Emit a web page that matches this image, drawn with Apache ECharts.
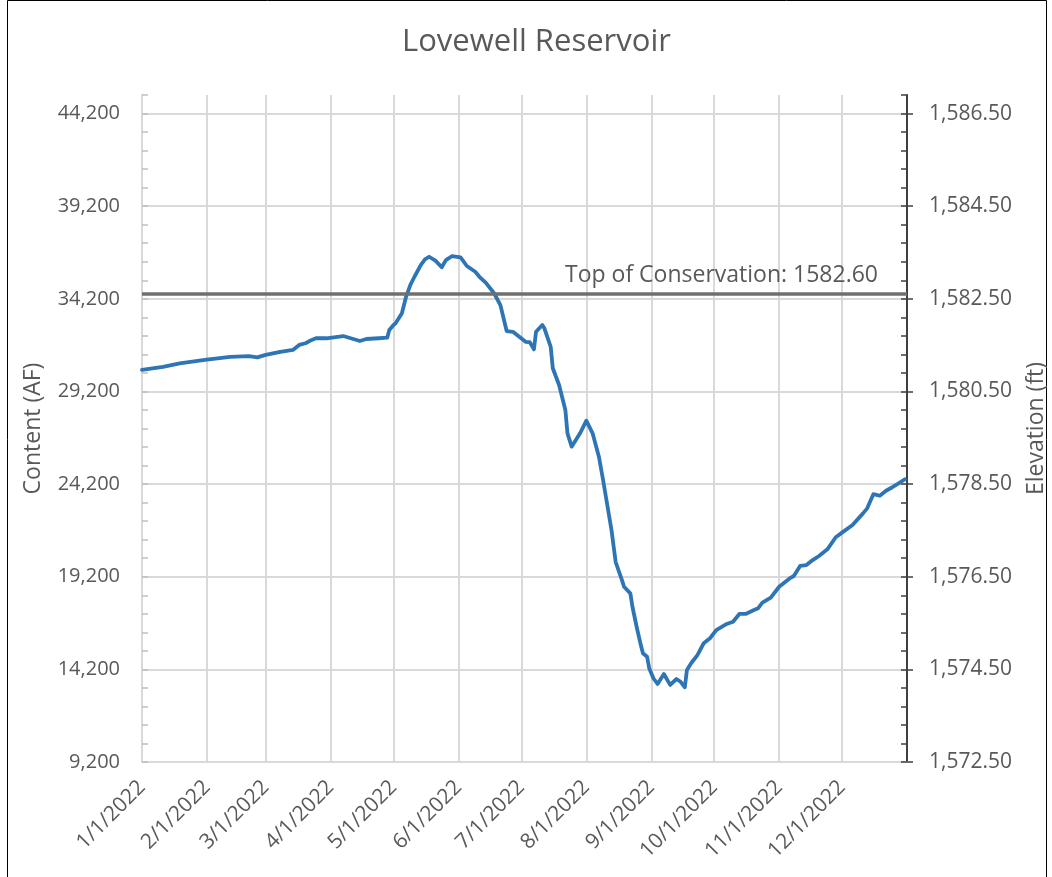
<!DOCTYPE html>
<html>
<head>
<meta charset="utf-8">
<title>Lovewell Reservoir</title>
<script src="https://cdn.jsdelivr.net/npm/echarts@6/dist/echarts.min.js"></script>
<style>
  html, body { margin: 0; padding: 0; background: #ffffff; }
  #chart { width: 1052px; height: 877px; }
</style>
</head>
<body>
<div id="chart"></div>
<script>
// Daily reservoir content readings (acre-feet), 2022
const dates = [
  '2022-01-01','2022-01-11','2022-01-19','2022-01-31','2022-02-12','2022-02-21','2022-02-25',
  '2022-03-01','2022-03-08','2022-03-14','2022-03-17','2022-03-20','2022-03-23','2022-03-25','2022-03-30',
  '2022-04-07','2022-04-15','2022-04-18','2022-04-24','2022-04-28','2022-04-29',
  '2022-05-01','2022-05-02','2022-05-05','2022-05-07','2022-05-09','2022-05-11','2022-05-14','2022-05-16',
  '2022-05-18','2022-05-21','2022-05-24','2022-05-26','2022-05-29',
  '2022-06-02','2022-06-05','2022-06-09','2022-06-11','2022-06-14','2022-06-18','2022-06-21','2022-06-24',
  '2022-06-27','2022-06-30',
  '2022-07-03','2022-07-05','2022-07-07','2022-07-08','2022-07-11','2022-07-12','2022-07-15','2022-07-16',
  '2022-07-19','2022-07-22','2022-07-23','2022-07-25','2022-07-29',
  '2022-08-01','2022-08-04','2022-08-07','2022-08-09','2022-08-11','2022-08-13','2022-08-15','2022-08-18',
  '2022-08-19','2022-08-22','2022-08-23','2022-08-25','2022-08-27','2022-08-28','2022-08-30','2022-08-31',
  '2022-09-02','2022-09-04','2022-09-07','2022-09-10','2022-09-13','2022-09-15','2022-09-17','2022-09-18',
  '2022-09-20','2022-09-23','2022-09-26','2022-09-29',
  '2022-10-02','2022-10-07','2022-10-10','2022-10-13','2022-10-16','2022-10-20','2022-10-22','2022-10-24',
  '2022-10-28',
  '2022-11-01','2022-11-06','2022-11-08','2022-11-11','2022-11-14','2022-11-17','2022-11-20','2022-11-24',
  '2022-11-28',
  '2022-12-01','2022-12-06','2022-12-11','2022-12-13','2022-12-16','2022-12-19','2022-12-22','2022-12-25',
  '2022-12-28','2022-12-31'
];
const contentAF = [
  30360, 30530, 30720, 30900, 31070, 31110, 31040,
  31170, 31340, 31440, 31710, 31800, 31980, 32070, 32070,
  32190, 31920, 32030, 32070, 32100, 32520,
  32790, 32880, 33420, 34310, 34940, 35390, 36020, 36330,
  36470, 36260, 35900, 36290, 36510,
  36440, 35970, 35660, 35390, 35070, 34500, 33860, 32460,
  32420, 32150,
  31880, 31860, 31470, 32420, 32790, 32610, 31610, 30450,
  29550, 28200, 26940, 26220, 26940,
  27620, 26940, 25680, 24420, 23070, 21720, 19990, 19020,
  18660, 18300, 17580, 16500, 15510, 15070, 14880, 14260,
  13720, 13410, 13950, 13360, 13680, 13530, 13230, 14170,
  14530, 14970, 15610, 15880,
  16320, 16650, 16770, 17190, 17190, 17400, 17500, 17800,
  18070,
  18660, 19110, 19240, 19780, 19830, 20100, 20320, 20680,
  21330,
  21580, 21990, 22620, 22890, 23660, 23570, 23840, 24030,
  24240, 24460
];

// Axis ranges and tick steps
const contentMin = 9200, contentMax = 45200, contentMajor = 5000, contentMinor = 1000;
const elevMin = 1572.5, elevMajor = 2, elevMinor = 0.4;
const afPerFoot = 2500;                       // content-to-elevation scale shared by both axes
const elevMax = elevMin + (contentMax - contentMin) / afPerFoot;
const conservationElev = 1582.60;
const conservationName = 'Top of Conservation';

// One category per day, 1/1/2022 through 1/1/2023
const categories = [];
for (let t = Date.UTC(2022, 0, 1); t <= Date.UTC(2023, 0, 1); t += 86400000) {
  categories.push(new Date(t).toISOString().slice(0, 10));
}
const lastIndex = categories.length - 1;

function usDate(iso) {
  const [y, m, d] = iso.split('-');
  return (+m) + '/' + (+d) + '/' + y;
}
function isMonthStart(index, value) {
  return index < lastIndex && categories[index].slice(8) === '01';
}
function isMultiple(v, base, step) {
  const k = (v - base) / step;
  return Math.abs(k - Math.round(k)) < 1e-6;
}

const FONT = 'Open Sans';
const TEXT = '#595959';
const GRID = '#d9d9d9';

const chart = echarts.init(document.getElementById('chart'), null, { renderer: 'canvas' });

chart.setOption({
  animation: false,
  backgroundColor: '#ffffff',
  textStyle: { fontFamily: FONT },
  title: {
    text: 'Lovewell Reservoir',
    left: 397,
    top: 22,
    textStyle: { fontFamily: FONT, fontSize: 31, fontWeight: 'normal', color: TEXT }
  },
  graphic: [{
    type: 'rect',
    shape: { x: 7.5, y: 0.5, width: 1039, height: 880 },
    style: { fill: 'none', stroke: '#000000', lineWidth: 1 },
    silent: true
  }],
  grid: {
    left: 142, right: 145, top: 95, bottom: 115,
    containLabel: false,
    outerBoundsMode: 'none'
  },
  xAxis: {
    type: 'category',
    data: categories,
    boundaryGap: false,
    axisLine: { show: true, lineStyle: { color: GRID, width: 2 } },
    axisTick: { show: false },
    axisLabel: {
      interval: isMonthStart,
      rotate: 45,
      margin: 22,
      formatter: usDate,
      color: TEXT,
      fontSize: 21,
      fontFamily: FONT
    },
    splitLine: { show: true, interval: isMonthStart, lineStyle: { color: GRID, width: 2 } }
  },
  yAxis: [
    {
      // left content axis: labels and minor ticks
      type: 'value',
      position: 'left',
      min: contentMin,
      max: contentMax,
      interval: contentMinor,
      name: 'Content (AF)',
      nameLocation: 'middle',
      nameGap: 97,
      nameTextStyle: { color: TEXT, fontSize: 23, fontFamily: FONT },
      axisLine: { show: true, lineStyle: { color: GRID, width: 2 } },
      axisTick: { show: true, inside: true, length: 6, lineStyle: { color: '#bfbfbf', width: 1.5 } },
      axisLabel: {
        margin: 22,
        color: TEXT,
        fontSize: 20,
        fontFamily: FONT,
        formatter: v => isMultiple(v, contentMin, contentMajor) ? v.toLocaleString('en-US') : ''
      },
      splitLine: { show: false }
    },
    {
      // right elevation axis: line and minor ticks
      type: 'value',
      position: 'right',
      min: elevMin,
      max: elevMax,
      interval: elevMinor,
      axisLine: { show: true, lineStyle: { color: '#404040', width: 2 } },
      axisTick: { show: true, inside: true, length: 6, lineStyle: { color: '#404040', width: 1.5 } },
      axisLabel: { show: false },
      splitLine: { show: false }
    },
    {
      // right elevation axis: major ticks and labels
      type: 'value',
      position: 'right',
      min: elevMin,
      max: elevMax,
      interval: elevMajor,
      name: 'Elevation (ft)',
      nameLocation: 'middle',
      nameGap: 118,
      nameTextStyle: { color: TEXT, fontSize: 23, fontFamily: FONT },
      axisLine: { show: false },
      axisTick: { show: true, inside: false, length: 6, lineStyle: { color: '#404040', width: 1.5 } },
      axisLabel: {
        margin: 22,
        color: TEXT,
        fontSize: 21,
        fontFamily: FONT,
        showMaxLabel: false,
        formatter: v => isMultiple(v, elevMin, elevMajor)
          ? v.toLocaleString('en-US', { minimumFractionDigits: 2, maximumFractionDigits: 2 })
          : ''
      },
      splitLine: { show: false }
    },
    {
      // horizontal gridlines at the major content values
      type: 'value',
      position: 'left',
      min: contentMin,
      max: contentMax,
      interval: contentMajor,
      axisLine: { show: false },
      axisTick: { show: false },
      axisLabel: { show: false },
      splitLine: { show: true, showMaxLine: false, lineStyle: { color: GRID, width: 2 } }
    }
  ],
  series: [
    {
      name: 'Content',
      type: 'line',
      yAxisIndex: 0,
      data: dates.map((d, i) => [d, contentAF[i]]),
      showSymbol: false,
      symbol: 'none',
      lineStyle: { color: '#2e75b6', width: 3.8, cap: 'round', join: 'round' },
      itemStyle: { color: '#2e75b6' },
      z: 4
    },
    {
      name: conservationName,
      type: 'line',
      yAxisIndex: 2,
      data: [],
      z: 3,
      markLine: {
        silent: true,
        symbol: 'none',
        animation: false,
        lineStyle: { color: '#6f6f6f', width: 3.5, type: 'solid' },
        label: {
          show: true,
          position: 'insideEndTop',
          formatter: () => conservationName + ': ' + conservationElev.toFixed(2),
          color: TEXT,
          fontSize: 23,
          fontFamily: FONT,
          padding: [0, 24, 2, 0]
        },
        emphasis: { disabled: true },
        data: [{ yAxis: conservationElev }]
      }
    }
  ]
});
</script>
</body>
</html>
